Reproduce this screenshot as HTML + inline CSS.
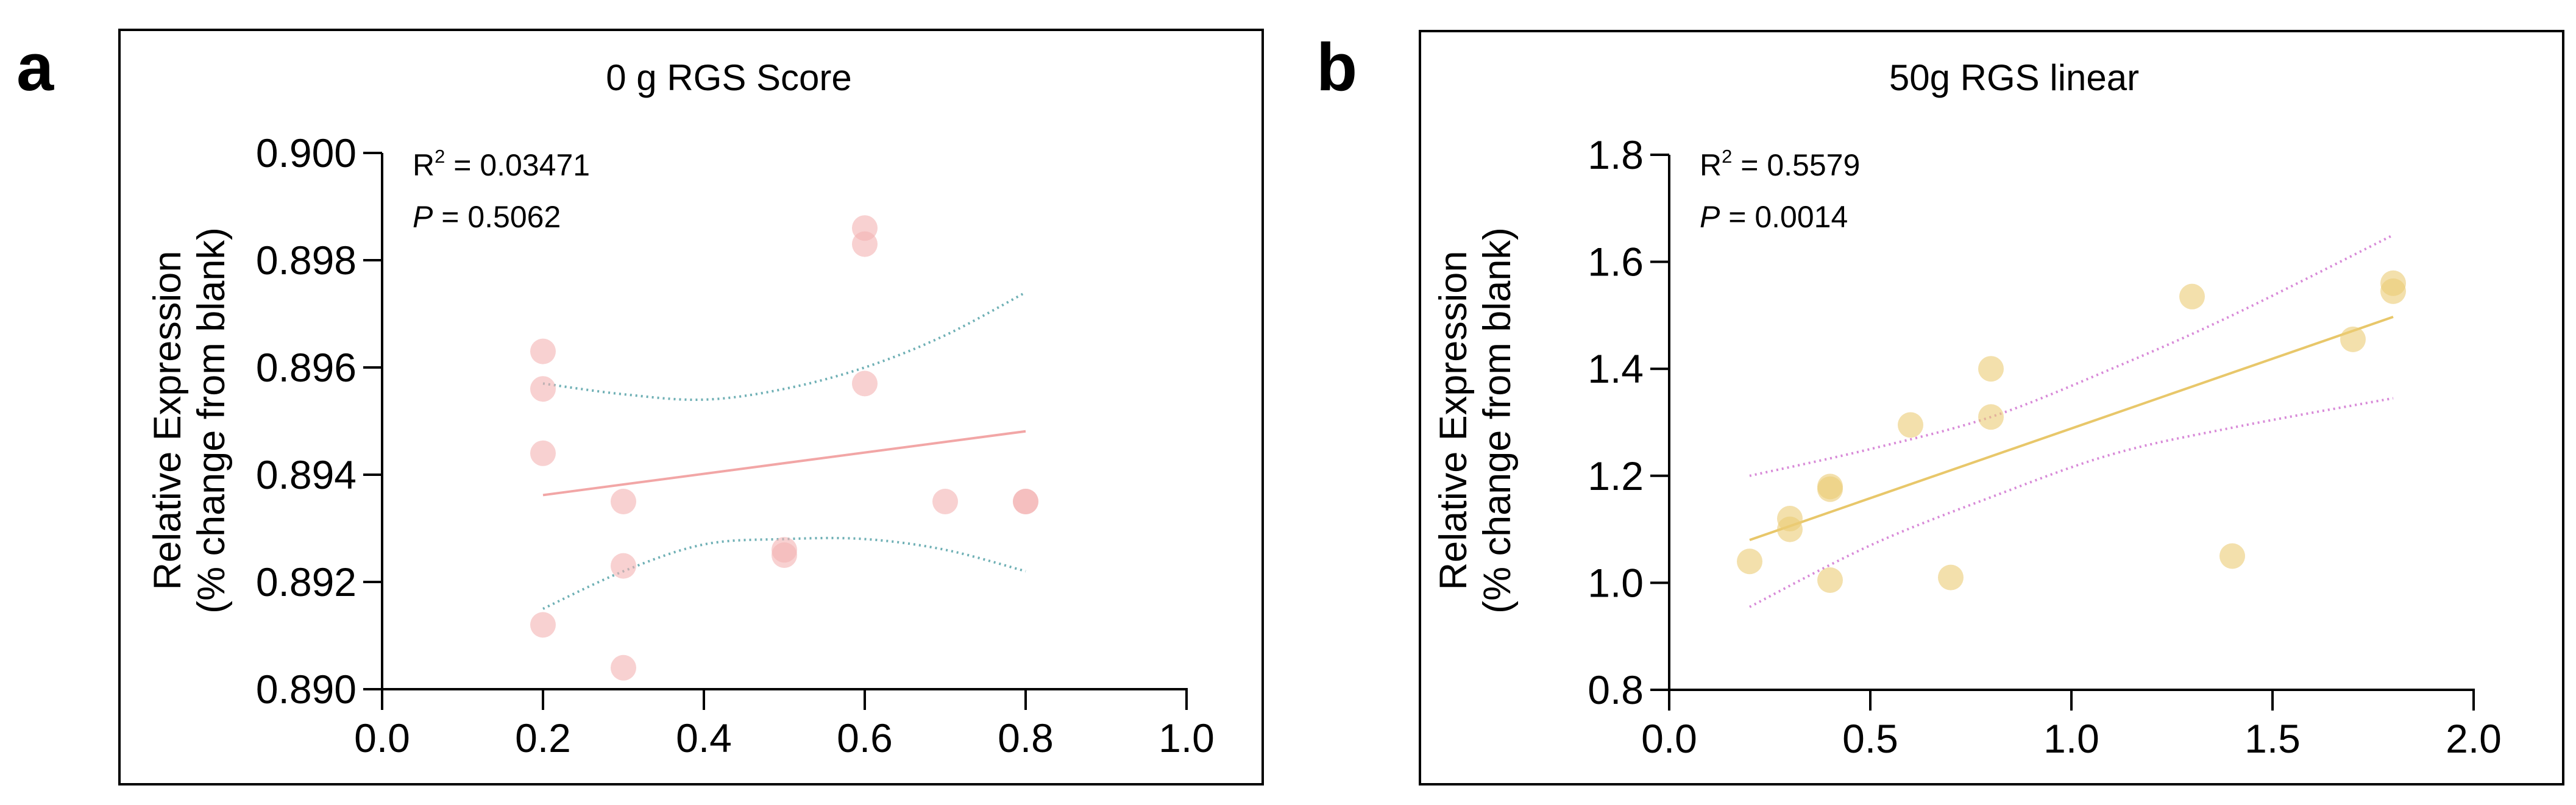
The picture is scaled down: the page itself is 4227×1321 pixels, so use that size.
<!DOCTYPE html>
<html><head><meta charset="utf-8"><style>
html,body{margin:0;padding:0;background:#fff;}
svg{display:block;font-family:"Liberation Sans",Arial,sans-serif;}
</style></head><body>
<svg id="fig" width="4227" height="1321" viewBox="0 0 4227 1321" xmlns="http://www.w3.org/2000/svg">
<text x="27" y="148" font-size="110" font-weight="bold">a</text>
<text x="2160" y="148" font-size="110" font-weight="bold">b</text>
<rect x="196" y="49" width="1876" height="1238" fill="none" stroke="#000" stroke-width="4"/>
<rect x="2330" y="51" width="1876" height="1236" fill="none" stroke="#000" stroke-width="4"/>
<g id="pa"></g>
<g id="pb"></g>
</svg>
<script>
// Panel A data
const aX = [0.2,0.2,0.2,0.2,0.3,0.3,0.3,0.5,0.5,0.6,0.6,0.6,0.7,0.8,0.8];
const aY = [0.8963,0.8956,0.8944,0.8912,0.8935,0.8923,0.8904,0.8925,0.8926,0.8986,0.8983,0.8957,0.8935,0.8935,0.8935];
const aFitX = [0.2,0.8];
const aFitY = [0.89362,0.89481];
const aBandX = [0.2,0.3,0.4,0.5,0.6,0.7,0.8];
const aUpper = [0.8957,0.8955,0.8954,0.8956,0.8960,0.8966,0.8974];
const aLower = [0.8915,0.8922,0.8927,0.8928,0.8928,0.8926,0.8922];
const aXTicks = [0.0,0.2,0.4,0.6,0.8,1.0];
const aYTicks = [0.890,0.892,0.894,0.896,0.898,0.900];
// Panel B data
const bX = [0.2,0.3,0.3,0.4,0.4,0.4,0.6,0.7,0.8,0.8,1.3,1.4,1.7,1.8,1.8];
const bY = [1.04,1.12,1.10,1.18,1.175,1.005,1.295,1.01,1.40,1.31,1.535,1.05,1.455,1.56,1.545];
const bFitX = [0.2,1.8];
const bFitY = [1.08,1.497];
const bBandX = [0.2,0.5,0.8,1.1,1.4,1.8];
const bUpper = [1.20,1.25,1.31,1.40,1.50,1.65];
const bLower = [0.955,1.07,1.16,1.24,1.29,1.345];
const bXTicks = [0.0,0.5,1.0,1.5,2.0];
const bYTicks = [0.8,1.0,1.2,1.4,1.6,1.8];

const NS="http://www.w3.org/2000/svg";
function mk(parent,tag,attrs,text){const e=document.createElementNS(NS,tag);for(const k in attrs)e.setAttribute(k,attrs[k]);if(text!==undefined)e.textContent=text;parent.appendChild(e);return e;}

function panel(g,cfg){
  const sx=v=>cfg.x0+(v-cfg.xmin)/(cfg.xmax-cfg.xmin)*(cfg.x1-cfg.x0);
  const sy=v=>cfg.y0-(v-cfg.ymin)/(cfg.ymax-cfg.ymin)*(cfg.y0-cfg.y1);
  let t=mk(g,'text',{x:cfg.tx,y:148,'font-size':60,'text-anchor':'middle'},cfg.title);
  
  
  let ya=mk(g,'line',{x1:cfg.x0,y1:cfg.y0,x2:cfg.x0,y2:cfg.y1,stroke:'#000','stroke-width':4});
  
  
  let xa=mk(g,'line',{x1:cfg.x0-2,y1:cfg.y0,x2:cfg.x1+2,y2:cfg.y0,stroke:'#000','stroke-width':4});
  
  
  cfg.xt.forEach(v=>{
    const x=sx(v);
    let l=mk(g,'line',{x1:x,y1:cfg.y0,x2:x,y2:cfg.y0+34,stroke:'#000','stroke-width':4});
    
    
    let tl=mk(g,'text',{x:x,y:cfg.y0+103,'font-size':66,'text-anchor':'middle'},v.toFixed(1));
    
    
  });
  cfg.yt.forEach(v=>{
    const y=sy(v);
    let l=mk(g,'line',{x1:cfg.x0-31,y1:y,x2:cfg.x0,y2:y,stroke:'#000','stroke-width':4});
    
    
    let tl=mk(g,'text',{x:cfg.x0-42,y:y+23,'font-size':66,'text-anchor':'end'},v.toFixed(cfg.yd));
    
    
  });
  let yt=mk(g,'text',{transform:`translate(${cfg.ytx},690) rotate(-90)`,'font-size':63,'text-anchor':'middle'});
  
  
  mk(yt,'tspan',{x:0,y:0},'Relative Expression');
  mk(yt,'tspan',{x:0,y:72},'(% change from blank)');
  let r=mk(g,'text',{x:cfg.x0+50,y:288,'font-size':50});
  
  
  mk(r,'tspan',{},'R');
  mk(r,'tspan',{'font-size':31,dy:-21},'2');
  mk(r,'tspan',{dy:21},' = '+cfg.r2);
  let p=mk(g,'text',{x:cfg.x0+50,y:373,'font-size':50});
  
  
  mk(p,'tspan',{'font-style':'italic'},'P');
  mk(p,'tspan',{},' = '+cfg.p);
  [cfg.up,cfg.lo].forEach((arr,i)=>{
    const pts=cfg.bx.map((v,k)=>[sx(v),sy(arr[k])]);
    let s='M'+pts[0][0]+' '+pts[0][1];
    for(let k=0;k<pts.length-1;k++){
      const p0=pts[Math.max(k-1,0)],p1=pts[k],p2=pts[k+1],p3=pts[Math.min(k+2,pts.length-1)];
      s+=` C${p1[0]+(p2[0]-p0[0])/6} ${p1[1]+(p2[1]-p0[1])/6} ${p2[0]-(p3[0]-p1[0])/6} ${p2[1]-(p3[1]-p1[1])/6} ${p2[0]} ${p2[1]}`;
    }
    let b=mk(g,'path',{d:s,fill:'none',stroke:cfg.bc,'stroke-width':4,'stroke-dasharray':'3 6'});
    
    
  });
  let f=mk(g,'line',{x1:sx(cfg.fx[0]),y1:sy(cfg.fy[0]),x2:sx(cfg.fx[1]),y2:sy(cfg.fy[1]),stroke:cfg.lc,'stroke-width':4});
  
  
  cfg.px.forEach((v,k)=>{
    let c=mk(g,'circle',{cx:sx(v),cy:sy(cfg.py[k]),r:21,fill:cfg.pc,'fill-opacity':0.6});
    
    
  });
}
panel(document.getElementById('pa'),{x0:627,x1:1947,y0:1131,y1:251,xmin:0,xmax:1,ymin:0.890,ymax:0.900,
  xt:aXTicks,yt:aYTicks,yd:3,tx:1196,title:'0 g RGS Score',ytx:296,r2:'0.03471',p:'0.5062',
  px:aX,py:aY,fx:aFitX,fy:aFitY,bx:aBandX,up:aUpper,lo:aLower,bc:'#6fb0b5',lc:'#f2a6a6',pc:'#f4b3b3'});
panel(document.getElementById('pb'),{x0:2739,x1:4059,y0:1132,y1:254,xmin:0,xmax:2,ymin:0.8,ymax:1.8,
  xt:bXTicks,yt:bYTicks,yd:1,tx:3305,title:'50g RGS linear',ytx:2406,r2:'0.5579',p:'0.0014',
  px:bX,py:bY,fx:bFitX,fy:bFitY,bx:bBandX,up:bUpper,lo:bLower,bc:'#d88ad8',lc:'#e8c76a',pc:'#ebcc75'});
</script>
</body></html>
